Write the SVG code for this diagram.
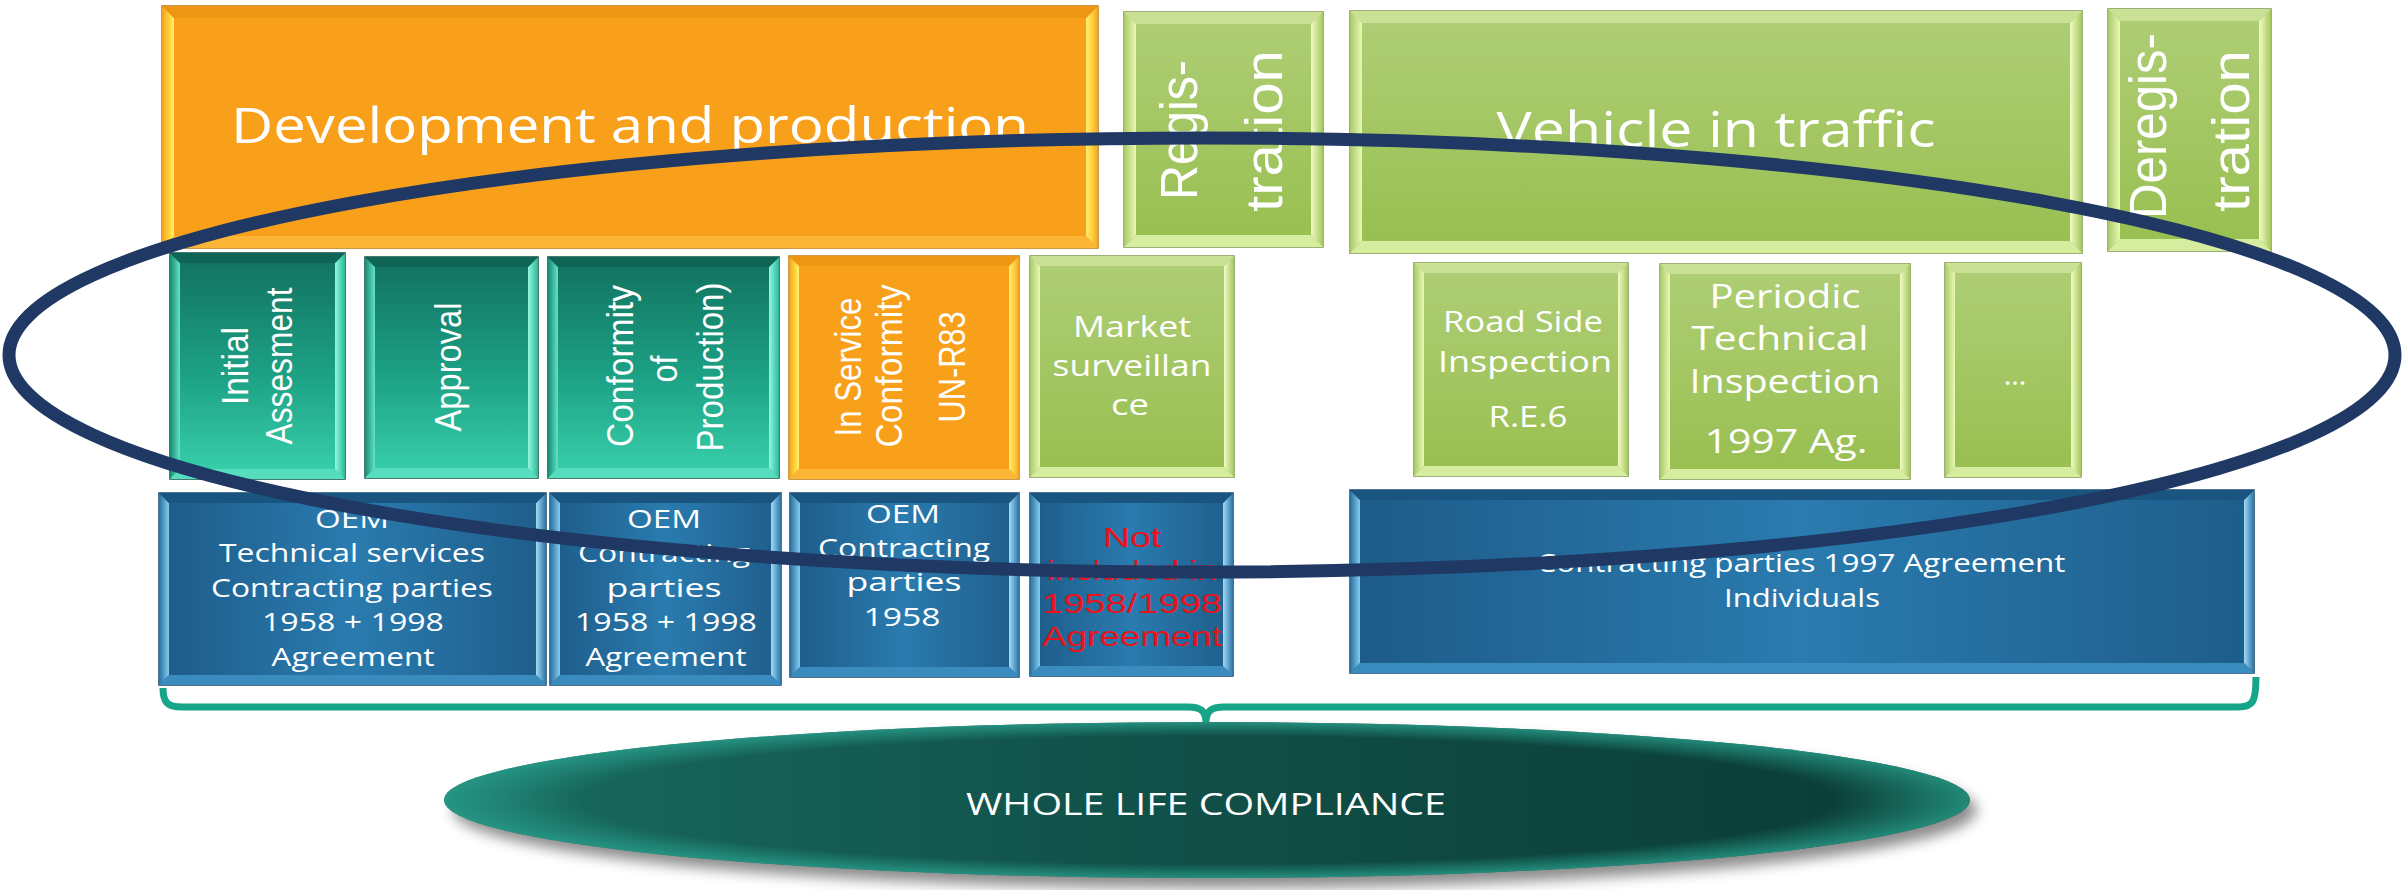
<svg xmlns="http://www.w3.org/2000/svg" width="2404" height="890" viewBox="0 0 2404 890">
<defs>
<style>
.t{font-family:"Open Sans","Liberation Sans",sans-serif;fill:#ffffff;}
.r{font-family:"Liberation Sans",Arial,sans-serif;fill:#ffffff;text-anchor:middle;}
.red{font-family:"Liberation Sans",Arial,sans-serif;fill:#E8131B;text-anchor:middle;}
.orange .base{fill:#F9A01B;stroke:#B9780F;stroke-width:1.5}
.orange .bl{fill:url(#oL)} .orange .br{fill:url(#oR)} .orange .bt{fill:#EC9614} .orange .bb{fill:#FBB637}
.green .base{fill:url(#gB);stroke:#7B964A;stroke-width:1.5}
.green .bl{fill:url(#gL)} .green .br{fill:url(#gR)} .green .bt{fill:#C9E095} .green .bb{fill:#D6EC9F}
.teal .base{fill:url(#tB);stroke:#0C4D41;stroke-width:1.5}
.teal .bl{fill:url(#tL)} .teal .br{fill:url(#tR)} .teal .bt{fill:#0F6555} .teal .bb{fill:#55DDBE}
.blue .base{fill:url(#bB);stroke:#15466A;stroke-width:1.5}
.blue .bl{fill:url(#bL)} .blue .br{fill:url(#bR)} .blue .bt{fill:#1A5480} .blue .bb{fill:#3A8CBF}
</style>
<linearGradient id="oL" x1="0" y1="0" x2="1" y2="0"><stop offset="0" stop-color="#F4A11E"/><stop offset="0.6" stop-color="#FFD43C"/><stop offset="1" stop-color="#FFF170"/></linearGradient>
<linearGradient id="oR" x1="0" y1="0" x2="1" y2="0"><stop offset="0" stop-color="#FFEC72"/><stop offset="0.5" stop-color="#FFD13F"/><stop offset="1" stop-color="#F1A523"/></linearGradient>
<linearGradient id="gB" x1="0" y1="0" x2="0" y2="1"><stop offset="0" stop-color="#AFCE76"/><stop offset="1" stop-color="#98BF50"/></linearGradient>
<linearGradient id="gL" x1="0" y1="0" x2="1" y2="0"><stop offset="0" stop-color="#A9C96A"/><stop offset="1" stop-color="#E9F8B2"/></linearGradient>
<linearGradient id="gR" x1="0" y1="0" x2="1" y2="0"><stop offset="0" stop-color="#F2FCC4"/><stop offset="1" stop-color="#A4C75E"/></linearGradient>
<linearGradient id="tB" x1="0" y1="0" x2="0" y2="1"><stop offset="0" stop-color="#11705E"/><stop offset="0.55" stop-color="#1DA285"/><stop offset="1" stop-color="#3AD2AD"/></linearGradient>
<linearGradient id="tL" x1="0" y1="0" x2="1" y2="0"><stop offset="0" stop-color="#178B73"/><stop offset="1" stop-color="#63E4C6"/></linearGradient>
<linearGradient id="tR" x1="0" y1="0" x2="1" y2="0"><stop offset="0" stop-color="#92F8E3"/><stop offset="1" stop-color="#2BB896"/></linearGradient>
<linearGradient id="bB" x1="0" y1="0" x2="1" y2="0"><stop offset="0" stop-color="#1D5B88"/><stop offset="0.5" stop-color="#2A7BAF"/><stop offset="1" stop-color="#1E5D8A"/></linearGradient>
<linearGradient id="bL" x1="0" y1="0" x2="1" y2="0"><stop offset="0" stop-color="#266FA0"/><stop offset="1" stop-color="#86CBEE"/></linearGradient>
<linearGradient id="bR" x1="0" y1="0" x2="1" y2="0"><stop offset="0" stop-color="#A4DAF6"/><stop offset="1" stop-color="#2974A6"/></linearGradient>
<linearGradient id="wB" x1="0" y1="0" x2="1" y2="0"><stop offset="0" stop-color="#186B60"/><stop offset="0.45" stop-color="#115149"/><stop offset="1" stop-color="#093A33"/></linearGradient>
<radialGradient id="wR" cx="0.5" cy="0.5" r="0.5"><stop offset="0.82" stop-color="#2AA38F" stop-opacity="0"/><stop offset="1" stop-color="#2AA38F" stop-opacity="0.75"/></radialGradient>
<filter id="sh" x="-10%" y="-50%" width="120%" height="200%"><feGaussianBlur stdDeviation="7"/></filter>
</defs>

<g id="dev" class="orange">
<rect class="base" x="162" y="6" width="936" height="242"/>
<polygon class="bl" points="162,6 174,18 174,236 162,248"/>
<polygon class="br" points="1098,6 1086,18 1086,236 1098,248"/>
<polygon class="bt" points="162,6 1098,6 1086,18 174,18"/>
<polygon class="bb" points="162,248 1098,248 1086,236 174,236"/>
<text class="t" x="630" y="143" font-size="50" text-anchor="middle" textLength="798" lengthAdjust="spacingAndGlyphs">Development and production</text>
</g>

<g id="regis" class="green">
<rect class="base" x="1124" y="12" width="199" height="235"/>
<polygon class="bl" points="1124,12 1136,24 1136,235 1124,247"/>
<polygon class="br" points="1323,12 1311,24 1311,235 1323,247"/>
<polygon class="bt" points="1124,12 1323,12 1311,24 1136,24"/>
<polygon class="bb" points="1124,247 1323,247 1311,235 1136,235"/>
<text class="r" font-size="40" transform="translate(1197,130) scale(1.3,1) rotate(-90)" textLength="140" lengthAdjust="spacingAndGlyphs">Regis-</text>
<text class="r" font-size="40" transform="translate(1282,131) scale(1.3,1) rotate(-90)" textLength="162" lengthAdjust="spacingAndGlyphs">tration</text>
</g>

<g id="vehicle" class="green">
<rect class="base" x="1350" y="11" width="732" height="242"/>
<polygon class="bl" points="1350,11 1362,23 1362,241 1350,253"/>
<polygon class="br" points="2082,11 2070,23 2070,241 2082,253"/>
<polygon class="bt" points="1350,11 2082,11 2070,23 1362,23"/>
<polygon class="bb" points="1350,253 2082,253 2070,241 1362,241"/>
<text class="t" x="1716" y="147" font-size="50" text-anchor="middle" textLength="439" lengthAdjust="spacingAndGlyphs">Vehicle in traffic</text>
</g>

<g id="deregis" class="green">
<rect class="base" x="2108" y="9" width="163" height="242"/>
<polygon class="bl" points="2108,9 2120,21 2120,239 2108,251"/>
<polygon class="br" points="2271,9 2259,21 2259,239 2271,251"/>
<polygon class="bt" points="2108,9 2271,9 2259,21 2120,21"/>
<polygon class="bb" points="2108,251 2271,251 2259,239 2120,239"/>
<text class="r" font-size="40" transform="translate(2166,126) scale(1.3,1) rotate(-90)" textLength="186" lengthAdjust="spacingAndGlyphs">Deregis-</text>
<text class="r" font-size="40" transform="translate(2249,131) scale(1.3,1) rotate(-90)" textLength="162" lengthAdjust="spacingAndGlyphs">tration</text>
</g>

<g id="initial" class="teal">
<rect class="base" x="170" y="253" width="175" height="226"/>
<polygon class="bl" points="170,253 180,263 180,469 170,479"/>
<polygon class="br" points="345,253 335,263 335,469 345,479"/>
<polygon class="bt" points="170,253 345,253 335,263 180,263"/>
<polygon class="bb" points="170,479 345,479 335,469 180,469"/>
<text class="r" font-size="30" transform="translate(248,366) scale(1.25,1) rotate(-90)" textLength="78" lengthAdjust="spacingAndGlyphs">Initial</text>
<text class="r" font-size="30" transform="translate(292,366) scale(1.25,1) rotate(-90)" textLength="157" lengthAdjust="spacingAndGlyphs">Assesment</text>
</g>

<g id="approval" class="teal">
<rect class="base" x="365" y="257" width="173" height="221"/>
<polygon class="bl" points="365,257 375,267 375,468 365,478"/>
<polygon class="br" points="538,257 528,267 528,468 538,478"/>
<polygon class="bt" points="365,257 538,257 528,267 375,267"/>
<polygon class="bb" points="365,478 538,478 528,468 375,468"/>
<text class="r" font-size="30" transform="translate(461,367) scale(1.25,1) rotate(-90)" textLength="129" lengthAdjust="spacingAndGlyphs">Approval</text>
</g>

<g id="cop" class="teal">
<rect class="base" x="548" y="257" width="231" height="221"/>
<polygon class="bl" points="548,257 558,267 558,468 548,478"/>
<polygon class="br" points="779,257 769,267 769,468 779,478"/>
<polygon class="bt" points="548,257 779,257 769,267 558,267"/>
<polygon class="bb" points="548,478 779,478 769,468 558,468"/>
<text class="r" font-size="30" transform="translate(633,366) scale(1.25,1) rotate(-90)" textLength="162" lengthAdjust="spacingAndGlyphs">Conformity</text>
<text class="r" font-size="30" transform="translate(677,369) scale(1.25,1) rotate(-90)" textLength="27" lengthAdjust="spacingAndGlyphs">of</text>
<text class="r" font-size="30" transform="translate(723,367) scale(1.25,1) rotate(-90)" textLength="169" lengthAdjust="spacingAndGlyphs">Production)</text>
</g>

<g id="isc" class="orange">
<rect class="base" x="789" y="256" width="230" height="223"/>
<polygon class="bl" points="789,256 799,266 799,469 789,479"/>
<polygon class="br" points="1019,256 1009,266 1009,469 1019,479"/>
<polygon class="bt" points="789,256 1019,256 1009,266 799,266"/>
<polygon class="bb" points="789,479 1019,479 1009,469 799,469"/>
<text class="r" font-size="30" transform="translate(861,367) scale(1.25,1) rotate(-90)" textLength="139" lengthAdjust="spacingAndGlyphs">In Service</text>
<text class="r" font-size="30" transform="translate(902,366) scale(1.25,1) rotate(-90)" textLength="163" lengthAdjust="spacingAndGlyphs">Conformity</text>
<text class="r" font-size="30" transform="translate(965,367) scale(1.25,1) rotate(-90)" textLength="111" lengthAdjust="spacingAndGlyphs">UN-R83</text>
</g>

<g id="market" class="green">
<rect class="base" x="1030" y="256" width="204" height="221"/>
<polygon class="bl" points="1030,256 1040,266 1040,467 1030,477"/>
<polygon class="br" points="1234,256 1224,266 1224,467 1234,477"/>
<polygon class="bt" points="1030,256 1234,256 1224,266 1040,266"/>
<polygon class="bb" points="1030,477 1234,477 1224,467 1040,467"/>
<text class="t" x="1132" y="337" font-size="30" text-anchor="middle" textLength="118" lengthAdjust="spacingAndGlyphs">Market</text>
<text class="t" x="1132" y="376" font-size="30" text-anchor="middle" textLength="159" lengthAdjust="spacingAndGlyphs">surveillan</text>
<text class="t" x="1130" y="415" font-size="30" text-anchor="middle" textLength="38" lengthAdjust="spacingAndGlyphs">ce</text>
</g>

<g id="roadside" class="green">
<rect class="base" x="1414" y="263" width="214" height="213"/>
<polygon class="bl" points="1414,263 1424,273 1424,466 1414,476"/>
<polygon class="br" points="1628,263 1618,273 1618,466 1628,476"/>
<polygon class="bt" points="1414,263 1628,263 1618,273 1424,273"/>
<polygon class="bb" points="1414,476 1628,476 1618,466 1424,466"/>
<text class="t" x="1523" y="332" font-size="29" text-anchor="middle" textLength="160" lengthAdjust="spacingAndGlyphs">Road Side</text>
<text class="t" x="1525" y="372" font-size="29" text-anchor="middle" textLength="174" lengthAdjust="spacingAndGlyphs">Inspection</text>
<text class="t" x="1528" y="427" font-size="29" text-anchor="middle" textLength="79" lengthAdjust="spacingAndGlyphs">R.E.6</text>
</g>

<g id="periodic" class="green">
<rect class="base" x="1660" y="264" width="250" height="215"/>
<polygon class="bl" points="1660,264 1670,274 1670,469 1660,479"/>
<polygon class="br" points="1910,264 1900,274 1900,469 1910,479"/>
<polygon class="bt" points="1660,264 1910,264 1900,274 1670,274"/>
<polygon class="bb" points="1660,479 1910,479 1900,469 1670,469"/>
<text class="t" x="1785" y="308" font-size="32" text-anchor="middle" textLength="151" lengthAdjust="spacingAndGlyphs">Periodic</text>
<text class="t" x="1780" y="350" font-size="32" text-anchor="middle" textLength="177" lengthAdjust="spacingAndGlyphs">Technical</text>
<text class="t" x="1785" y="393" font-size="32" text-anchor="middle" textLength="191" lengthAdjust="spacingAndGlyphs">Inspection</text>
<text class="t" x="1786" y="453" font-size="32" text-anchor="middle" textLength="163" lengthAdjust="spacingAndGlyphs">1997 Ag.</text>
</g>

<g id="more" class="green">
<rect class="base" x="1945" y="263" width="136" height="214"/>
<polygon class="bl" points="1945,263 1955,273 1955,467 1945,477"/>
<polygon class="br" points="2081,263 2071,273 2071,467 2081,477"/>
<polygon class="bt" points="1945,263 2081,263 2071,273 1955,273"/>
<polygon class="bb" points="1945,477 2081,477 2071,467 1955,467"/>
<text class="t" x="2015" y="385" font-size="29" text-anchor="middle">…</text>
</g>

<g id="oem1" class="blue">
<rect class="base" x="159" y="493" width="387" height="192"/>
<polygon class="bl" points="159,493 169,503 169,675 159,685"/>
<polygon class="br" points="546,493 536,503 536,675 546,685"/>
<polygon class="bt" points="159,493 546,493 536,503 169,503"/>
<polygon class="bb" points="159,685 546,685 536,675 169,675"/>
<text class="t" x="352" y="528" font-size="26" text-anchor="middle" textLength="74" lengthAdjust="spacingAndGlyphs">OEM</text>
<text class="t" x="352" y="562" font-size="26" text-anchor="middle" textLength="266" lengthAdjust="spacingAndGlyphs">Technical services</text>
<text class="t" x="352" y="597" font-size="26" text-anchor="middle" textLength="282" lengthAdjust="spacingAndGlyphs">Contracting parties</text>
<text class="t" x="353" y="631" font-size="26" text-anchor="middle" textLength="182" lengthAdjust="spacingAndGlyphs">1958 + 1998</text>
<text class="t" x="353" y="666" font-size="26" text-anchor="middle" textLength="163" lengthAdjust="spacingAndGlyphs">Agreement</text>
</g>

<g id="oem2" class="blue">
<rect class="base" x="550" y="493" width="231" height="192"/>
<polygon class="bl" points="550,493 560,503 560,675 550,685"/>
<polygon class="br" points="781,493 771,503 771,675 781,685"/>
<polygon class="bt" points="550,493 781,493 771,503 560,503"/>
<polygon class="bb" points="550,685 781,685 771,675 560,675"/>
<text class="t" x="664" y="528" font-size="26" text-anchor="middle" textLength="74" lengthAdjust="spacingAndGlyphs">OEM</text>
<text class="t" x="664" y="562" font-size="26" text-anchor="middle" textLength="172" lengthAdjust="spacingAndGlyphs">Contracting</text>
<text class="t" x="664" y="597" font-size="26" text-anchor="middle" textLength="115" lengthAdjust="spacingAndGlyphs">parties</text>
<text class="t" x="666" y="631" font-size="26" text-anchor="middle" textLength="182" lengthAdjust="spacingAndGlyphs">1958 + 1998</text>
<text class="t" x="666" y="666" font-size="26" text-anchor="middle" textLength="161" lengthAdjust="spacingAndGlyphs">Agreement</text>
</g>

<g id="oem3" class="blue">
<rect class="base" x="790" y="493" width="229" height="184"/>
<polygon class="bl" points="790,493 800,503 800,667 790,677"/>
<polygon class="br" points="1019,493 1009,503 1009,667 1019,677"/>
<polygon class="bt" points="790,493 1019,493 1009,503 800,503"/>
<polygon class="bb" points="790,677 1019,677 1009,667 800,667"/>
<text class="t" x="903" y="523" font-size="26" text-anchor="middle" textLength="74" lengthAdjust="spacingAndGlyphs">OEM</text>
<text class="t" x="904" y="557" font-size="26" text-anchor="middle" textLength="172" lengthAdjust="spacingAndGlyphs">Contracting</text>
<text class="t" x="904" y="591" font-size="26" text-anchor="middle" textLength="115" lengthAdjust="spacingAndGlyphs">parties</text>
<text class="t" x="902" y="626" font-size="26" text-anchor="middle" textLength="77" lengthAdjust="spacingAndGlyphs">1958</text>
</g>

<g id="notincl" class="blue">
<rect class="base" x="1030" y="493" width="203" height="183"/>
<polygon class="bl" points="1030,493 1040,503 1040,666 1030,676"/>
<polygon class="br" points="1233,493 1223,503 1223,666 1233,676"/>
<polygon class="bt" points="1030,493 1233,493 1223,503 1040,503"/>
<polygon class="bb" points="1030,676 1233,676 1223,666 1040,666"/>
<text class="red" x="1132" y="547" font-size="28" textLength="58" lengthAdjust="spacingAndGlyphs">Not</text>
<text class="red" x="1132" y="580" font-size="28" textLength="170" lengthAdjust="spacingAndGlyphs">included in</text>
<text class="red" x="1132" y="613" font-size="28" textLength="180" lengthAdjust="spacingAndGlyphs">1958/1998</text>
<text class="red" x="1132" y="646" font-size="28" textLength="180" lengthAdjust="spacingAndGlyphs">Agreement</text>
</g>

<g id="cp1997" class="blue">
<rect class="base" x="1350" y="490" width="904" height="183"/>
<polygon class="bl" points="1350,490 1360,500 1360,663 1350,673"/>
<polygon class="br" points="2254,490 2244,500 2244,663 2254,673"/>
<polygon class="bt" points="1350,490 2254,490 2244,500 1360,500"/>
<polygon class="bb" points="1350,673 2254,673 2244,663 1360,663"/>
<text class="t" x="1801" y="572" font-size="26" text-anchor="middle" textLength="529" lengthAdjust="spacingAndGlyphs">Contracting parties 1997 Agreement</text>
<text class="t" x="1802" y="607" font-size="26" text-anchor="middle" textLength="156" lengthAdjust="spacingAndGlyphs">Individuals</text>
</g>

<g id="connectors">
<path id="brace" d="M 163,688 C 163,702 167,707 182,707 L 1188,707 C 1201,707 1206,711 1206,723 C 1206,711 1211,707 1224,707 L 2238,707 C 2253,707 2256,702 2256,677" fill="none" stroke="#17A589" stroke-width="7"/>
<ellipse id="scope-ring" cx="1202" cy="355" rx="1193" ry="217" fill="none" stroke="#1F3864" stroke-width="13"/>
</g>

<g id="whole-life">
<ellipse cx="1215" cy="810" rx="762" ry="78" fill="#000" opacity="0.45" filter="url(#sh)"/>
<ellipse cx="1207" cy="800" rx="763" ry="78" fill="url(#wB)"/>
<ellipse cx="1207" cy="800" rx="763" ry="78" fill="url(#wR)"/>
<text class="t" x="1206" y="815" font-size="31" text-anchor="middle" textLength="480" lengthAdjust="spacingAndGlyphs">WHOLE LIFE COMPLIANCE</text>
</g>
</svg>
